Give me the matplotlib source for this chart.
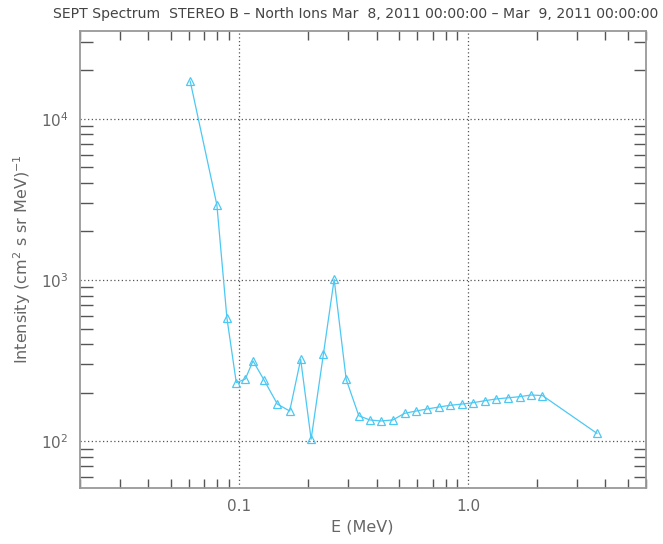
import matplotlib
matplotlib.use("Agg")
import matplotlib.pyplot as plt
from matplotlib.ticker import LogLocator, FixedLocator, FixedFormatter, NullFormatter

# Data
energy_mev = [0.0609, 0.0797, 0.0882, 0.0969, 0.1061, 0.1147, 0.1281, 0.1466,
              0.166, 0.1854, 0.206, 0.2332, 0.2598, 0.2933, 0.333, 0.372,
              0.4157, 0.4693, 0.528, 0.594, 0.664, 0.746, 0.834, 0.939,
              1.056, 1.188, 1.333, 1.498, 1.687, 1.89, 2.12, 3.67]
intensity = [17100, 2917, 579, 231, 243, 315, 240, 170,
             154, 322, 103, 348, 1010, 242, 144, 135.5,
             133.6, 135.5, 149, 154, 158.6, 163, 167, 170,
             173.5, 178.5, 183, 186, 189, 193.6, 192, 112]

x_major = [0.1, 1.0]
x_major_labels = ["0.1", "1.0"]
y_major = [1e2, 1e3, 1e4]

title = "SEPT Spectrum  STEREO B \u2013 North Ions Mar  8, 2011 00:00:00 \u2013 Mar  9, 2011 00:00:00"

text_color = "#666666"
line_color = "#4cc8f4"

fig = plt.figure(figsize=(6.63, 5.44), dpi=100)
ax = fig.add_axes([79.7/663, 1-488/544, 566/663, 457/544])

ax.plot(energy_mev, intensity, color=line_color, lw=0.9, marker="^",
        markersize=6, markerfacecolor="none", markeredgecolor=line_color,
        markeredgewidth=0.9, zorder=3)

ax.set_xscale("log")
ax.set_yscale("log")
ax.set_xlim(0.02, 6.0)
ax.set_ylim(51.3, 35000)

# major ticks as dotted grid lines only
ax.xaxis.set_major_locator(FixedLocator(x_major))
ax.xaxis.set_major_formatter(FixedFormatter(x_major_labels))
ax.xaxis.set_minor_locator(LogLocator(base=10, subs=range(2, 10), numticks=20))
ax.xaxis.set_minor_formatter(NullFormatter())
ax.yaxis.set_major_locator(FixedLocator(y_major))
ax.yaxis.set_major_formatter(FixedFormatter([r"$10^{2}$", r"$10^{3}$", r"$10^{4}$"]))
ax.yaxis.set_minor_locator(LogLocator(base=10, subs=range(2, 10), numticks=20))
ax.yaxis.set_minor_formatter(NullFormatter())

ax.grid(True, which="major", linestyle=(0, (1, 2)), color="#555555", linewidth=0.9)
ax.tick_params(which="major", length=0, labelsize=11, labelcolor=text_color, pad=8)
ax.tick_params(which="minor", direction="in", top=True, right=True, bottom=True, left=True,
               color="#555555", width=1.0)
ax.tick_params(axis="y", which="minor", length=9)
ax.tick_params(axis="x", which="minor", length=6.5)

for s in ax.spines.values():
    s.set_color("#999999")
    s.set_linewidth(1.3)

ax.set_xlabel("E (MeV)", fontsize=11.5, color=text_color, labelpad=4)
ax.set_ylabel(r"Intensity (cm$^2$ s sr MeV)$^{-1}$", fontsize=11.5, color=text_color, labelpad=6)

fig.text(356/663, 1-14/544, title, ha="center", va="center", fontsize=10.1, color="#444444")

fig.savefig("out.png", dpi=100, facecolor="white")
